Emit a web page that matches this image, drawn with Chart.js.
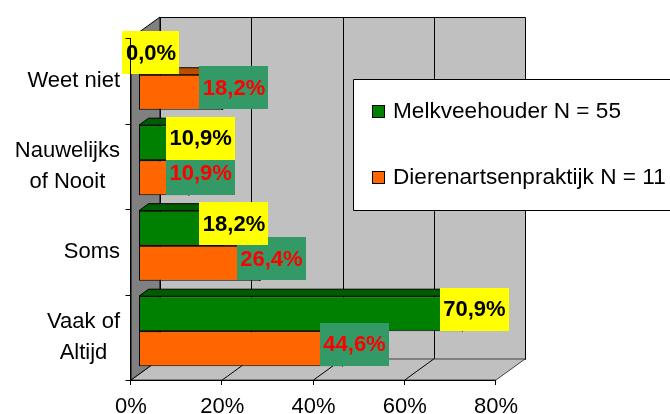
<!DOCTYPE html>
<html>
<head>
<meta charset="utf-8">
<script src="https://cdn.jsdelivr.net/npm/chart.js@4/dist/chart.umd.min.js"></script>
<style>
  html, body { margin: 0; padding: 0; background: #ffffff; }
  #wrap { width: 670px; height: 414px; }
</style>
</head>
<body>
<div id="wrap"><canvas id="c" width="670" height="414"></canvas></div>
<script>
// Answer categories (top to bottom), multi-line labels as arrays
const categories = [['Weet niet'], ['Nauwelijks', 'of Nooit'], ['Soms'], ['Vaak of', 'Altijd']];
// Percentages per group
const melkveehouder = [0.0, 10.9, 18.2, 70.9];
const dierenartsenpraktijk = [18.2, 10.9, 26.4, 44.6];
const seriesNames = ['Melkveehouder N = 55', 'Dierenartsenpraktijk N = 11'];
// Value axis ticks (percent)
const xTicks = [0, 20, 40, 60, 80];

const FONT = "'Liberation Sans', Arial, sans-serif";
const GREEN = '#008000', ORANGE = '#FF6600';
const SHADE = {
  [GREEN]: { top: '#005C00', end: '#003F00' },
  [ORANGE]: { top: '#C04C00', end: '#8A3600' }
};
// Oblique projection: wall depth and bar depth
const WALL_DX = 29, WALL_DY = -21;
const BAR_SHIFT_X = 8, BAR_SHIFT_Y = -6;
const BAR_DX = 9.5, BAR_DY = -7;

function fmtPct(v) { return v.toFixed(1).replace('.', ',') + '%'; }
const crisp = v => Math.round(v) + 0.5;

const wallsPlugin = {
  id: 'walls',
  beforeDatasetsDraw(chart) {
    const ctx = chart.ctx, xs = chart.scales.x, a = chart.chartArea;
    const x0 = xs.getPixelForValue(xTicks[0]);
    const x1 = xs.getPixelForValue(xTicks[xTicks.length - 1]);
    const top = a.top, bot = a.bottom;
    ctx.save();
    ctx.lineWidth = 1;
    ctx.strokeStyle = '#000';
    // back wall
    ctx.fillStyle = '#C0C0C0';
    ctx.beginPath();
    ctx.rect(crisp(x0 + WALL_DX), crisp(top + WALL_DY), Math.round(x1 - x0), Math.round(bot - top));
    ctx.fill();
    ctx.stroke();
    // back wall gridlines
    xTicks.slice(1, -1).forEach(t => {
      const gx = crisp(xs.getPixelForValue(t) + WALL_DX);
      ctx.beginPath();
      ctx.moveTo(gx, top + WALL_DY);
      ctx.lineTo(gx, bot + WALL_DY);
      ctx.stroke();
    });
    // floor
    ctx.fillStyle = '#C0C0C0';
    ctx.beginPath();
    ctx.moveTo(x0, bot); ctx.lineTo(x1, bot);
    ctx.lineTo(x1 + WALL_DX, bot + WALL_DY); ctx.lineTo(x0 + WALL_DX, bot + WALL_DY);
    ctx.closePath();
    ctx.fill();
    ctx.strokeStyle = '#404040';
    ctx.stroke();
    ctx.strokeStyle = '#000';
    xTicks.slice(1, -1).forEach(t => {
      const gx = xs.getPixelForValue(t);
      ctx.beginPath();
      ctx.moveTo(gx, bot);
      ctx.lineTo(gx + WALL_DX, bot + WALL_DY);
      ctx.stroke();
    });
    // side wall
    ctx.fillStyle = '#808080';
    ctx.beginPath();
    ctx.moveTo(x0, top); ctx.lineTo(x0 + WALL_DX, top + WALL_DY);
    ctx.lineTo(x0 + WALL_DX, bot + WALL_DY); ctx.lineTo(x0, bot);
    ctx.closePath();
    ctx.fill();
    ctx.stroke();
    ctx.restore();

    // bars sit a little behind the front plane
    ctx.save();
    ctx.translate(BAR_SHIFT_X, BAR_SHIFT_Y);
  },
  afterDatasetDraw(chart, args) {
    // top and end faces of each bar (still in shifted space)
    const ctx = chart.ctx;
    const ds = chart.data.datasets[args.index];
    const sh = SHADE[ds.backgroundColor];
    args.meta.data.forEach(el => {
      const xa = el.base, xb = el.x;
      if (Math.abs(xb - xa) < 0.5) return;
      const t = el.y - el.height / 2, b = el.y + el.height / 2;
      ctx.save();
      ctx.lineWidth = 1;
      ctx.strokeStyle = '#000';
      ctx.fillStyle = sh.top;
      ctx.beginPath();
      ctx.moveTo(xa, t); ctx.lineTo(xa + BAR_DX, t + BAR_DY);
      ctx.lineTo(xb + BAR_DX, t + BAR_DY); ctx.lineTo(xb, t);
      ctx.closePath();
      ctx.fill(); ctx.stroke();
      ctx.fillStyle = sh.end;
      ctx.beginPath();
      ctx.moveTo(xb, t); ctx.lineTo(xb + BAR_DX, t + BAR_DY);
      ctx.lineTo(xb + BAR_DX, b + BAR_DY); ctx.lineTo(xb, b);
      ctx.closePath();
      ctx.fill(); ctx.stroke();
      ctx.restore();
    });
  },
  afterDatasetsDraw(chart) {
    const ctx = chart.ctx;
    ctx.restore();

    // value labels: orange series first, green series on top
    ctx.save();
    ctx.font = 'bold 22px ' + FONT;
    ctx.textAlign = 'center';
    ctx.textBaseline = 'middle';
    [1, 0].forEach(di => {
      const ds = chart.data.datasets[di];
      const meta = chart.getDatasetMeta(di);
      const bg = di === 0 ? '#FFFF00' : '#339966';
      const fg = di === 0 ? '#000000' : '#FF0000';
      meta.data.forEach((el, i) => {
        const txt = fmtPct(ds.data[i]);
        const w = ctx.measureText(txt).width + 7;
        const h = 43;
        const cx = el.x + BAR_SHIFT_X + 12;
        const cy = el.y + BAR_SHIFT_Y - 4.5;
        ctx.fillStyle = bg;
        ctx.fillRect(Math.round(cx - w / 2), Math.round(cy - h / 2), Math.round(w), h);
        ctx.fillStyle = fg;
        ctx.fillText(txt, cx, cy + 1);
      });
    });
    ctx.restore();

    // front axis lines and tick marks
    const xs = chart.scales.x, a = chart.chartArea;
    const x0 = crisp(xs.getPixelForValue(xTicks[0]) - 1);
    ctx.save();
    ctx.strokeStyle = '#000';
    ctx.lineWidth = 1;
    ctx.beginPath();
    ctx.moveTo(x0, a.top); ctx.lineTo(x0, a.bottom);
    ctx.moveTo(x0, crisp(a.bottom)); ctx.lineTo(xs.getPixelForValue(xTicks[xTicks.length - 1]), crisp(a.bottom));
    const step = (a.bottom - a.top) / categories.length;
    for (let k = 0; k <= categories.length; k++) {
      const ty = crisp(a.top + k * step);
      ctx.moveTo(x0 - 5, ty); ctx.lineTo(x0, ty);
    }
    xTicks.forEach(t => {
      const tx = crisp(xs.getPixelForValue(t) - 1);
      ctx.moveTo(tx, a.bottom); ctx.lineTo(tx, a.bottom + 5);
    });
    ctx.stroke();

    // value axis tick labels
    ctx.font = '22px ' + FONT;
    ctx.fillStyle = '#000';
    ctx.textAlign = 'center';
    ctx.textBaseline = 'alphabetic';
    xTicks.forEach(t => {
      ctx.fillText(t + '%', xs.getPixelForValue(t), a.bottom + 33);
    });
    ctx.restore();
  },
  afterDraw(chart) {
    const ctx = chart.ctx, ys = chart.scales.y;
    // category labels: block right-aligned, lines centred in the block
    ctx.save();
    ctx.font = '22px ' + FONT;
    ctx.fillStyle = '#000';
    ctx.textBaseline = 'middle';
    ctx.textAlign = 'center';
    const lineH = 31;
    categories.forEach((lines, i) => {
      const cy = ys.getPixelForValue(i);
      const bw = Math.max(...lines.map(l => ctx.measureText(l).width));
      const cx = 120 - bw / 2;
      lines.forEach((l, j) => {
        ctx.fillText(l, cx, cy + (j - (lines.length - 1) / 2) * lineH);
      });
    });

    // legend box
    ctx.font = '22.6px ' + FONT;
    ctx.fillStyle = '#FFFFFF';
    ctx.strokeStyle = '#000';
    ctx.lineWidth = 1;
    ctx.beginPath();
    ctx.rect(353.5, 79.5, 400, 131);
    ctx.fill(); ctx.stroke();
    ctx.textAlign = 'left';
    const rows = [112, 178];
    chart.data.datasets.forEach((ds, i) => {
      ctx.fillStyle = ds.backgroundColor;
      ctx.fillRect(373, rows[i] - 6, 11, 11);
      ctx.strokeRect(372.5, rows[i] - 6.5, 12, 12);
      ctx.fillStyle = '#000';
      ctx.fillText(ds.label, 393, rows[i]);
    });
    ctx.restore();
  }
};

new Chart(document.getElementById('c'), {
  type: 'bar',
  data: {
    labels: categories,
    datasets: [
      { label: seriesNames[0], data: melkveehouder, backgroundColor: GREEN, borderColor: '#000', borderWidth: 1, borderSkipped: false, clip: false },
      { label: seriesNames[1], data: dierenartsenpraktijk, backgroundColor: ORANGE, borderColor: '#000', borderWidth: 1, borderSkipped: false, clip: false }
    ]
  },
  options: {
    indexAxis: 'y',
    responsive: false,
    animation: false,
    devicePixelRatio: 1,
    categoryPercentage: 0.82,
    barPercentage: 1.0,
    layout: { padding: { top: 38, right: 174, left: 0, bottom: 0 } },
    plugins: { legend: { display: false }, tooltip: { enabled: false } },
    scales: {
      x: {
        min: 0, max: 80,
        afterBuildTicks: s => { s.ticks = xTicks.map(v => ({ value: v })); },
        afterFit: s => { s.height = 34; },
        grid: { display: false, drawTicks: false },
        border: { display: false },
        ticks: { display: false }
      },
      y: {
        afterFit: s => { s.width = 131; },
        grid: { display: false, drawTicks: false },
        border: { display: false },
        ticks: { display: false }
      }
    }
  },
  plugins: [wallsPlugin]
});
</script>
</body>
</html>
